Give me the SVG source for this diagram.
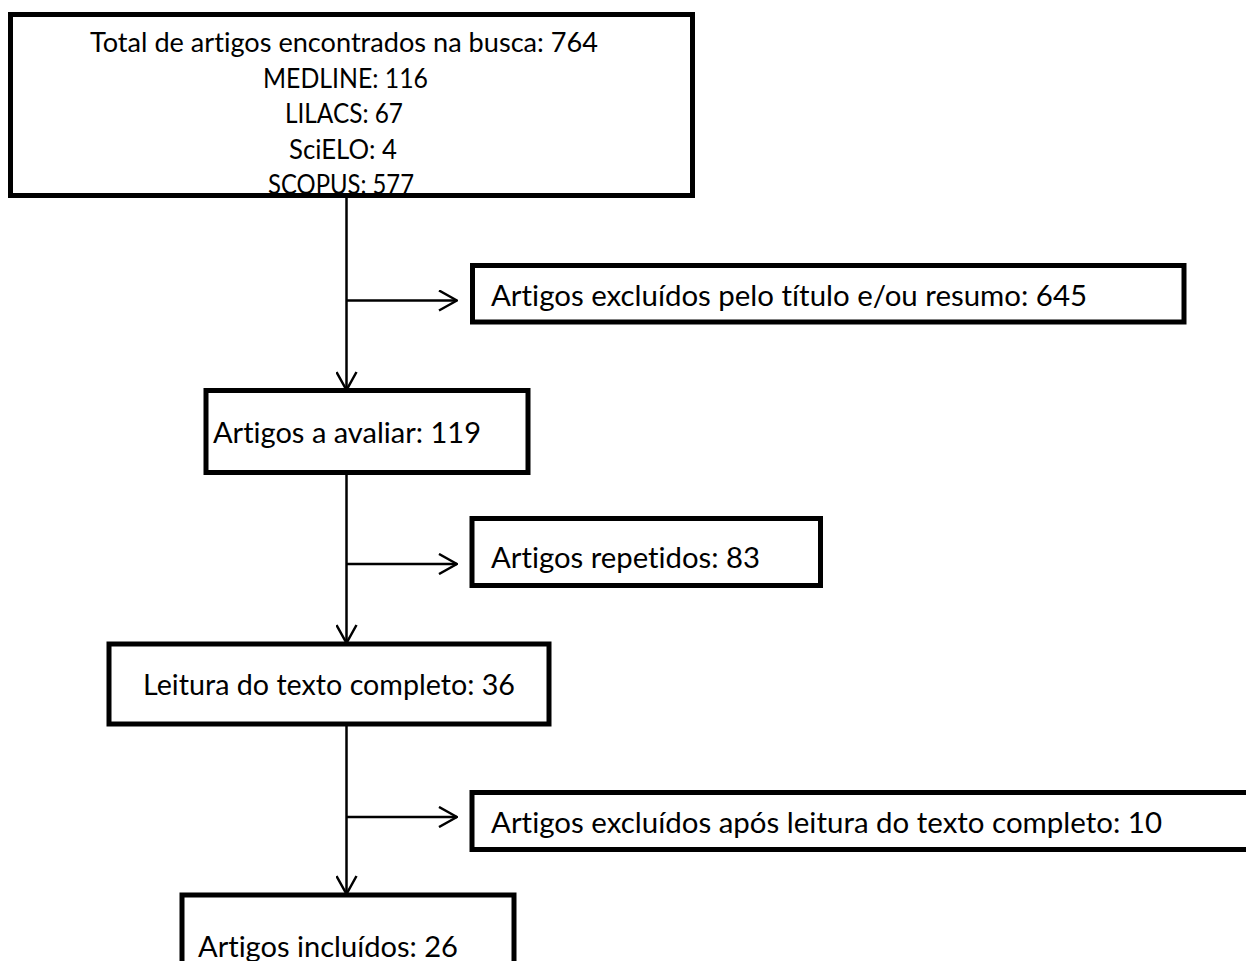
<svg xmlns="http://www.w3.org/2000/svg" width="1246" height="961" viewBox="0 0 1246 961">
<defs>
<style>
.box{fill:#fff;stroke:#000;stroke-width:5}
.t,.s{font-family:Lato,"Liberation Sans",Arial,sans-serif;fill:#000;font-variant-ligatures:none}
.t{font-size:29px}
.s{font-size:26px}
.ln{fill:none;stroke:#000;stroke-width:2.5}
</style>
<marker id="ah" viewBox="0 0 20 22" refX="19" refY="11" markerWidth="20" markerHeight="22" markerUnits="userSpaceOnUse" orient="auto">
<path d="M1,1 L19,11 L1,21" fill="none" stroke="#000" stroke-width="2.5"/>
</marker>
</defs>
<rect width="1246" height="961" fill="#fff"/>
<g id="connectors">
<line class="ln" x1="346.5" y1="196" x2="346.5" y2="390" marker-end="url(#ah)"/>
<line class="ln" x1="346.5" y1="300.5" x2="457" y2="300.5" marker-end="url(#ah)"/>
<line class="ln" x1="346.5" y1="473" x2="346.5" y2="643" marker-end="url(#ah)"/>
<line class="ln" x1="346.5" y1="564" x2="457" y2="564" marker-end="url(#ah)"/>
<line class="ln" x1="346.5" y1="724" x2="346.5" y2="894" marker-end="url(#ah)"/>
<line class="ln" x1="346.5" y1="817" x2="457" y2="817" marker-end="url(#ah)"/>
</g>
<g id="node-total">
<rect class="box" x="10.5" y="14.5" width="682" height="181"/>
<text class="s" x="90" y="52" textLength="508" lengthAdjust="spacingAndGlyphs">Total de artigos encontrados na busca: 764</text>
<text class="s" x="263" y="87.5" textLength="165" lengthAdjust="spacingAndGlyphs">MEDLINE: 116</text>
<text class="s" x="285" y="123" textLength="118" lengthAdjust="spacingAndGlyphs">LILACS: 67</text>
<text class="s" x="289" y="158.5" textLength="108" lengthAdjust="spacingAndGlyphs">SciELO: 4</text>
<text class="s" x="268" y="194" textLength="146" lengthAdjust="spacingAndGlyphs">SCOPUS: 577</text>
</g>
<g id="node-excl-titulo">
<rect class="box" x="472.5" y="265.5" width="711.5" height="56.5"/>
<text class="t" x="491" y="306" textLength="596" lengthAdjust="spacingAndGlyphs">Artigos excluídos pelo título e/ou resumo: 645</text>
</g>
<g id="node-avaliar">
<rect class="box" x="206" y="390.5" width="322" height="82"/>
<text class="t" x="213" y="443" textLength="268" lengthAdjust="spacingAndGlyphs">Artigos a avaliar: 119</text>
</g>
<g id="node-repetidos">
<rect class="box" x="472" y="518.5" width="348.5" height="67"/>
<text class="t" x="491" y="568" textLength="269" lengthAdjust="spacingAndGlyphs">Artigos repetidos: 83</text>
</g>
<g id="node-leitura">
<rect class="box" x="109" y="644" width="440" height="80"/>
<text class="t" x="143" y="695" textLength="372" lengthAdjust="spacingAndGlyphs">Leitura do texto completo: 36</text>
</g>
<g id="node-excl-leitura">
<rect class="box" x="472" y="792.5" width="800" height="57"/>
<text class="t" x="491" y="833" textLength="671" lengthAdjust="spacingAndGlyphs">Artigos excluídos após leitura do texto completo: 10</text>
</g>
<g id="node-incluidos">
<rect class="box" x="182" y="895" width="332" height="100"/>
<text class="t" x="198" y="957" textLength="260" lengthAdjust="spacingAndGlyphs">Artigos incluídos: 26</text>
</g>
</svg>
